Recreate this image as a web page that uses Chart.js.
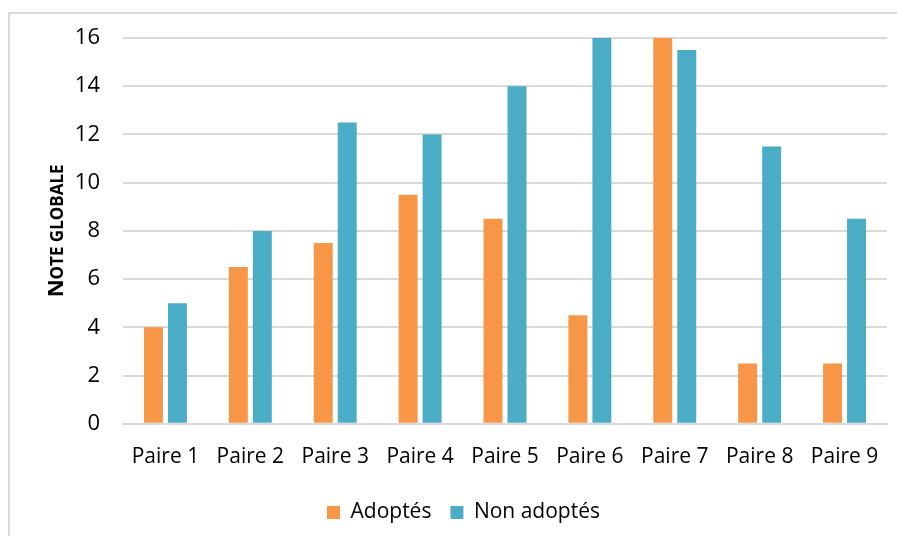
<!DOCTYPE html>
<html lang="fr">
<head>
<meta charset="UTF-8">
<title>Note globale par paire</title>
<script src="https://cdn.jsdelivr.net/npm/chart.js"></script>
<style>
html, body {
  margin: 0;
  padding: 0;
  background: #fff;
}
#frame {
  position: absolute;
  left: 8px;
  top: 12px;
  width: 900px;
  height: 540px;
  border: 2px solid #d9d9d9;
}
#wrap {
  position: absolute;
  left: 0;
  top: 0;
  width: 897px;
  height: 536px;
}
</style>
</head>
<body>
<div id="frame"></div>
<div id="wrap"><canvas id="chart"></canvas></div>

<script>
const categories = ["Paire 1", "Paire 2", "Paire 3", "Paire 4", "Paire 5", "Paire 6", "Paire 7", "Paire 8", "Paire 9"];
const adoptes = [4, 6.5, 7.5, 9.5, 8.5, 4.5, 16, 2.5, 2.5];
const nonAdoptes = [5, 8, 12.5, 12, 14, 16, 15.5, 11.5, 8.5];
const yTicks = [0, 2, 4, 6, 8, 10, 12, 14, 16];
const yTitle = "Note globale";

const fontFamily = "'Open Sans', 'Liberation Sans', sans-serif";

// titre de l'axe Y en petites capitales (la première lettre plus grande)
const smallCapsTitle = {
  id: "smallCapsTitle",
  afterDraw(chart) {
    const ctx = chart.ctx;
    const area = chart.chartArea;
    const first = yTitle[0].toUpperCase();
    const rest = yTitle.slice(1).toUpperCase();
    const bigFont = "bold 22px " + fontFamily;
    const smallFont = "bold 17px " + fontFamily;
    ctx.save();
    ctx.font = bigFont;
    const w1 = ctx.measureText(first).width;
    ctx.font = smallFont;
    const w2 = ctx.measureText(rest).width;
    const total = w1 + w2;
    ctx.translate(63, (area.top + area.bottom) / 2);
    ctx.rotate(-Math.PI / 2);
    ctx.fillStyle = "#000";
    ctx.textBaseline = "alphabetic";
    ctx.textAlign = "left";
    ctx.font = bigFont;
    ctx.fillText(first, -total / 2, 0);
    ctx.font = smallFont;
    ctx.fillText(rest, -total / 2 + w1, 0);
    ctx.restore();
  }
};

new Chart(document.getElementById("chart"), {
  type: "bar",
  data: {
    labels: categories,
    datasets: [
      { label: "Adoptés", data: adoptes, backgroundColor: "#f79646", categoryPercentage: 0.565, barPercentage: 0.79 },
      { label: "Non adoptés", data: nonAdoptes, backgroundColor: "#4bacc6", categoryPercentage: 0.565, barPercentage: 0.79 }
    ]
  },
  options: {
    responsive: true,
    maintainAspectRatio: false,
    animation: false,
    layout: { padding: { left: 40, right: 10, top: 38, bottom: 3 } },
    plugins: {
      legend: {
        position: "bottom",
        labels: {
          boxWidth: 13,
          boxHeight: 13,
          padding: 19,
          color: "#000",
          font: { family: fontFamily, size: 21 }
        }
      },
      tooltip: { enabled: false }
    },
    scales: {
      x: {
        grid: { display: false },
        border: { color: "#d9d9d9", width: 2 },
        ticks: { color: "#000", font: { family: fontFamily, size: 21 }, padding: 13, maxRotation: 0 }
      },
      y: {
        min: 0,
        max: 16,
        afterBuildTicks: axis => { axis.ticks = yTicks.map(v => ({ value: v })); },
        afterFit: axis => { axis.width = 83; },
        grid: { color: "#d9d9d9", lineWidth: 2, drawTicks: false },
        border: { display: false },
        ticks: { color: "#000", font: { family: fontFamily, size: 22 }, padding: 23 }
      }
    }
  },
  plugins: [smallCapsTitle]
});
</script>
</body>
</html>
